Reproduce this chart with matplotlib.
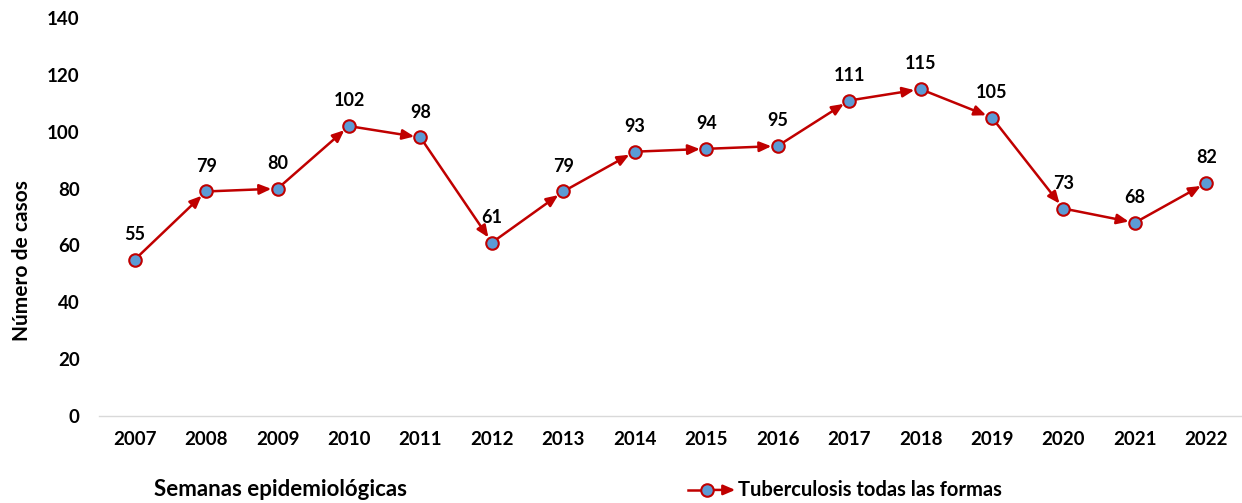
import matplotlib.pyplot as plt

plt.rcParams["font.family"] = ["Lato", "DejaVu Sans"]
plt.rcParams["font.weight"] = "bold"

years = ["2007", "2008", "2009", "2010", "2011", "2012", "2013", "2014",
         "2015", "2016", "2017", "2018", "2019", "2020", "2021", "2022"]
cases = [55, 79, 80, 102, 98, 61, 79, 93, 94, 95, 111, 115, 105, 73, 68, 82]

line_red = "#C00000"
dot_blue = "#5B9BD5"
arrow_style = "-|>,head_length=0.7,head_width=0.3"

fig = plt.figure(figsize=(12.42, 5.03), dpi=100)
ax = fig.add_axes([0.0797, 0.173, 0.9203, 0.791])

x = list(range(len(years)))

# segments with arrowheads ending at each next point
for i in range(len(x) - 1):
    ax.annotate("", xy=(x[i + 1], cases[i + 1]), xytext=(x[i], cases[i]),
                arrowprops=dict(arrowstyle=arrow_style, color=line_red,
                                lw=1.8, shrinkA=4, shrinkB=4.5))

ax.plot(x, cases, linestyle="none", marker="o", markersize=9,
        markerfacecolor=dot_blue, markeredgecolor=line_red, markeredgewidth=1.5,
        zorder=5)

for xi, v in zip(x, cases):
    ax.annotate(str(v), (xi, v), xytext=(0, 12), textcoords="offset points",
                ha="center", va="bottom", fontsize=13, fontweight="bold")

ax.set_xlim(-0.5, len(x) - 0.5)
ax.set_ylim(0, 140)
ax.set_yticks(range(0, 141, 20))
ax.set_xticks(x)
ax.set_xticklabels(years)
ax.tick_params(axis="both", length=0, labelsize=13.5)
ax.tick_params(axis="x", pad=11)
ax.tick_params(axis="y", pad=14)
for lab in ax.get_xticklabels() + ax.get_yticklabels():
    lab.set_fontweight("bold")

for side in ["top", "right", "left"]:
    ax.spines[side].set_visible(False)
ax.spines["bottom"].set_color("#D9D9D9")
ax.spines["bottom"].set_linewidth(1)

ax.set_ylabel("Número de casos", fontsize=15, fontweight="bold")
ax.yaxis.set_label_coords(-0.059, 0.39)

fig.text(0.124, 0.026, "Semanas epidemiológicas", fontsize=16,
         fontweight="bold", va="center")

# legend drawn by hand: line, marker, then arrowhead
leg_y = 0.026
fig.add_artist(plt.Line2D([0.554, 0.569], [leg_y, leg_y], color=line_red,
                          lw=1.8, transform=fig.transFigure))
fig.add_artist(plt.Line2D([0.569], [leg_y], marker="o", markersize=9,
                          markerfacecolor=dot_blue, markeredgecolor=line_red,
                          markeredgewidth=1.5, transform=fig.transFigure,
                          zorder=5))
ax.annotate("", xy=(0.592, leg_y), xytext=(0.569, leg_y),
            xycoords="figure fraction", textcoords="figure fraction",
            arrowprops=dict(arrowstyle=arrow_style, color=line_red, lw=1.8,
                            shrinkA=4, shrinkB=0), annotation_clip=False)
fig.text(0.594, leg_y, "Tuberculosis todas las formas", fontsize=14.5,
         fontweight="bold", va="center")

fig.savefig("out.png", dpi=100)
